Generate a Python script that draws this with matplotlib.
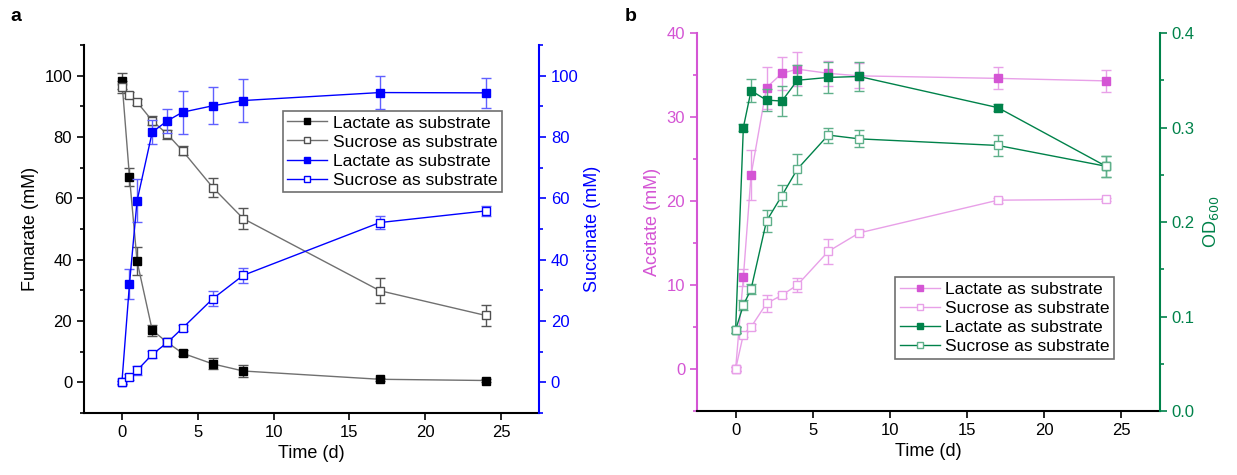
import matplotlib.pyplot as plt
from matplotlib.ticker import MultipleLocator

plt.rcParams['font.family'] = ['Liberation Sans', 'DejaVu Sans']
plt.rcParams['font.size'] = 12

# time points (d)
t = [0, 0.5, 1, 2, 3, 4, 6, 8, 17, 24]

# panel a: fumarate (left axis), succinate (right axis)
fum_lac = [98.3, 67.0, 39.5, 17.0, 13.0, 9.5, 6.0, 3.7, 1.0, 0.6]
fum_lac_err = [2.5, 3.0, 4.5, 1.8, 1.0, 1.0, 1.8, 1.8, 0.5, 0.5]
fum_suc = [96.4, 93.7, 91.4, 85.3, 80.9, 75.5, 63.5, 53.4, 29.9, 21.8]
fum_suc_err = [2.0, 1.0, 1.0, 1.5, 1.5, 1.5, 3.0, 3.5, 4.0, 3.5]
succ_lac = [0.0, 32.1, 59.2, 81.6, 85.3, 88.1, 90.2, 91.9, 94.5, 94.4]
succ_lac_err = [0.5, 5.0, 7.0, 4.0, 4.0, 7.0, 6.0, 7.0, 5.5, 5.0]
succ_suc = [0.0, 1.7, 3.9, 9.1, 13.0, 17.7, 27.3, 34.9, 52.1, 55.9]
succ_suc_err = [0.5, 1.0, 1.5, 1.0, 1.0, 1.0, 2.5, 2.5, 2.0, 1.5]

# panel b: acetate (left axis), OD600 (right axis)
ace_lac = [0.0, 10.9, 23.1, 33.5, 35.2, 35.7, 35.2, 34.9, 34.6, 34.3]
ace_lac_err = [0.2, 1.0, 3.0, 2.5, 2.0, 2.0, 1.5, 1.5, 1.3, 1.3]
ace_suc = [0.0, 4.1, 5.0, 7.8, 8.8, 10.0, 14.0, 16.2, 20.1, 20.2]
ace_suc_err = [0.2, 0.3, 0.3, 1.0, 0.3, 0.8, 1.5, 0.3, 0.3, 0.2]
od_lac = [0.086, 0.300, 0.339, 0.329, 0.328, 0.350, 0.353, 0.354, 0.321, 0.259]
od_lac_err = [0.003, 0.004, 0.012, 0.012, 0.016, 0.016, 0.016, 0.015, 0.004, 0.011]
od_suc = [0.086, 0.112, 0.129, 0.201, 0.228, 0.256, 0.292, 0.288, 0.281, 0.259]
od_suc_err = [0.003, 0.005, 0.005, 0.012, 0.011, 0.016, 0.008, 0.009, 0.011, 0.011]

label_lac = 'Lactate as substrate'
label_suc = 'Sucrose as substrate'

blue = '#0000FF'
magenta = '#D455D4'
magenta_light = '#E8A0E8'
green = '#00824A'
green_light = '#5FB08A'

fig = plt.figure(figsize=(12.37, 4.75), dpi=100)


def series(ax, y, err, color, line_color, filled, label, ecolor=None):
    face = color if filled else 'white'
    eb = ax.errorbar(t, y, yerr=err, color=line_color, lw=1.0,
                     marker='s', ms=6, mfc=face, mec=color, mew=1.0,
                     ecolor=ecolor or line_color, elinewidth=1.0,
                     capsize=3.5, capthick=1.0, label=label)
    return eb[0]


def style_axis(ax, color):
    ax.tick_params(axis='y', colors=color, direction='out', length=5, width=1.2)
    ax.tick_params(axis='y', which='minor', colors=color, length=3, width=1.2)


def add_legend(ax, handles, anchor):
    leg = ax.legend(handles, [label_lac, label_suc, label_lac, label_suc],
                    loc='upper left', bbox_to_anchor=anchor,
                    fancybox=False, edgecolor='#707070', framealpha=1,
                    handlelength=2.3, borderpad=0.25, labelspacing=0.22,
                    handletextpad=0.3, borderaxespad=0, markerscale=0.65,
                    fontsize=12.6)
    leg.get_frame().set_linewidth(1.2)


# ---- panel a ----
axa = fig.add_axes([0.0679, 0.1305, 0.3678, 0.7747])
axa2 = axa.twinx()
h1 = series(axa, fum_lac, fum_lac_err, 'black', '#707070', True, label_lac, ecolor='#555555')
h2 = series(axa, fum_suc, fum_suc_err, '#505050', '#707070', False, label_suc, ecolor='#555555')
h3 = series(axa2, succ_lac, succ_lac_err, blue, blue, True, label_lac, ecolor='#6060FF')
h4 = series(axa2, succ_suc, succ_suc_err, blue, blue, False, label_suc, ecolor='#6060FF')

for ax in (axa, axa2):
    ax.set_ylim(-10, 110)
    ax.set_xlim(-2.5, 27.5)
    ax.yaxis.set_major_locator(MultipleLocator(20))
    ax.yaxis.set_minor_locator(MultipleLocator(10))
    ax.spines['top'].set_visible(False)
    for s in ax.spines.values():
        s.set_linewidth(1.5)
axa.spines['right'].set_visible(False)
axa2.spines['right'].set_color(blue)
axa2.spines['left'].set_visible(False)
axa2.spines['bottom'].set_visible(False)
style_axis(axa, 'black')
style_axis(axa2, blue)
axa.xaxis.set_major_locator(MultipleLocator(5))
axa.tick_params(axis='x', direction='out', length=5, width=1.2)
axa.set_xlabel('Time (d)', fontsize=13)
axa.set_ylabel('Fumarate (mM)', fontsize=13)
axa2.set_ylabel('Succinate (mM)', color=blue, fontsize=13)
add_legend(axa2, [h1, h2, h3, h4], (0.437, 0.821))

# ---- panel b ----
axb = fig.add_axes([0.5635, 0.1347, 0.3743, 0.7958])
axb2 = axb.twinx()
k1 = series(axb, ace_lac, ace_lac_err, magenta, magenta_light, True, label_lac)
k2 = series(axb, ace_suc, ace_suc_err, magenta_light, magenta_light, False, label_suc)
k3 = series(axb2, od_lac, od_lac_err, green, green, True, label_lac, ecolor=green_light)
k4 = series(axb2, od_suc, od_suc_err, green_light, green, False, label_suc, ecolor=green_light)

axb.set_ylim(-5, 40)
axb.yaxis.set_major_locator(MultipleLocator(10))
axb.yaxis.set_minor_locator(MultipleLocator(5))
axb2.set_ylim(0.0, 0.4)
axb2.yaxis.set_major_locator(MultipleLocator(0.1))
axb2.yaxis.set_minor_locator(MultipleLocator(0.05))
axb.set_xlim(-2.5, 27.5)
for ax in (axb, axb2):
    ax.spines['top'].set_visible(False)
    for s in ax.spines.values():
        s.set_linewidth(1.5)
axb.spines['right'].set_visible(False)
axb.spines['left'].set_color(magenta)
axb2.spines['left'].set_visible(False)
axb2.spines['bottom'].set_visible(False)
axb2.spines['right'].set_color(green)
style_axis(axb, magenta)
style_axis(axb2, green)
axb.xaxis.set_major_locator(MultipleLocator(5))
axb.tick_params(axis='x', direction='out', length=5, width=1.2)
axb.set_xlabel('Time (d)', fontsize=13)
axb.set_ylabel('Acetate (mM)', color=magenta, fontsize=13)
axb2.set_ylabel('OD$_{600}$', color=green, fontsize=13)
add_legend(axb2, [k1, k2, k3, k4], (0.428, 0.354))

fig.text(0.008, 0.955, 'a', fontsize=14, fontweight='bold')
fig.text(0.505, 0.955, 'b', fontsize=14, fontweight='bold')

fig.savefig('out.png', dpi=100)
